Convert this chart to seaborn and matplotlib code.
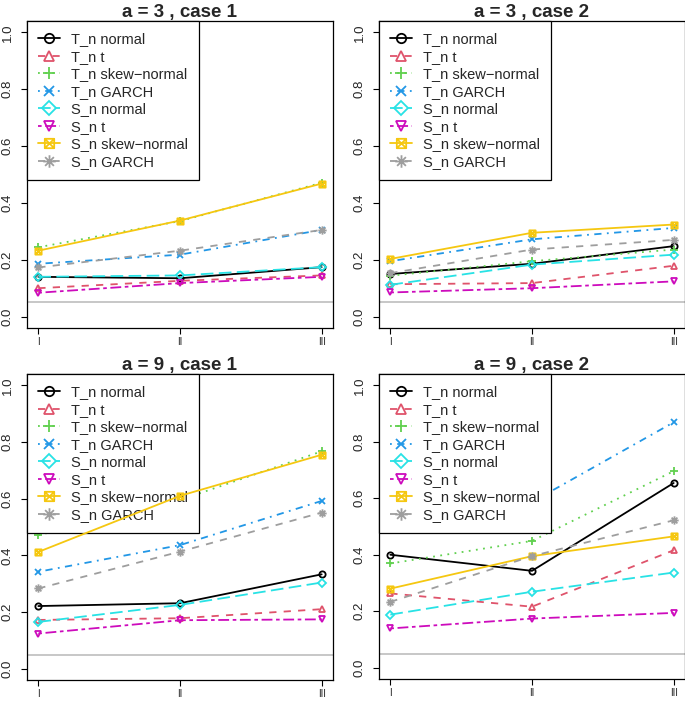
import numpy as np
import pandas as pd
import seaborn as sns
import matplotlib
matplotlib.use("Agg")
import matplotlib.pyplot as plt
from matplotlib.path import Path

# scenarios on the x axis
scenarios = [1, 2, 3]
scenario_labels = ["I", "II", "III"]

series_names = ["T_n normal", "T_n t", "T_n skew\u2212normal", "T_n GARCH",
                "S_n normal", "S_n t", "S_n skew\u2212normal", "S_n GARCH"]

# rejection rates, one row per series (same order as series_names)
a3_case1 = [[0.140, 0.135, 0.174],
            [0.100, 0.126, 0.145],
            [0.244, 0.336, 0.471],
            [0.186, 0.218, 0.305],
            [0.140, 0.145, 0.174],
            [0.084, 0.118, 0.140],
            [0.232, 0.338, 0.468],
            [0.173, 0.232, 0.305]]

a3_case2 = [[0.150, 0.186, 0.248],
            [0.114, 0.118, 0.179],
            [0.144, 0.195, 0.236],
            [0.195, 0.272, 0.312],
            [0.112, 0.183, 0.218],
            [0.085, 0.100, 0.124],
            [0.203, 0.295, 0.324],
            [0.153, 0.236, 0.270]]

a9_case1 = [[0.221, 0.231, 0.333],
            [0.172, 0.178, 0.210],
            [0.471, 0.595, 0.767],
            [0.342, 0.436, 0.592],
            [0.165, 0.225, 0.304],
            [0.124, 0.171, 0.174],
            [0.412, 0.610, 0.755],
            [0.283, 0.413, 0.551]]

a9_case2 = [[0.400, 0.343, 0.654],
            [0.263, 0.216, 0.416],
            [0.369, 0.449, 0.696],
            [0.561, 0.587, 0.869],
            [0.188, 0.269, 0.337],
            [0.139, 0.174, 0.194],
            [0.280, 0.395, 0.465],
            [0.233, 0.395, 0.522]]

panel_titles = ["a = 3 , case 1", "a = 3 , case 2", "a = 9 , case 1", "a = 9 , case 2"]
panel_data = [a3_case1, a3_case2, a9_case1, a9_case2]

rows = []
for title, block in zip(panel_titles, panel_data):
    for name, vals in zip(series_names, block):
        for s, v in zip(scenarios, vals):
            rows.append([title, name, s, v])
df = pd.DataFrame(rows, columns=["panel", "series", "scenario", "power"])

# R default palette and lty / pch sequences
colors = ["#000000", "#DF536B", "#61D04F", "#2297E6",
          "#28E2E5", "#CD0BBC", "#F5C710", "#9E9E9E"]
linestyles = ["-", (0, (4, 4)), (0, (1, 3)), (0, (1, 3, 4, 3)),
              (0, (7, 3)), (0, (2, 2, 6, 2)), "-", (0, (4, 4))]

box_x = Path([(-1, -1), (1, -1), (1, 1), (-1, 1), (-1, -1),
              (-1, -1), (1, 1), (-1, 1), (1, -1)],
             [Path.MOVETO, Path.LINETO, Path.LINETO, Path.LINETO, Path.CLOSEPOLY,
              Path.MOVETO, Path.LINETO, Path.MOVETO, Path.LINETO])
star8 = Path([(-1, 0), (1, 0), (0, -1), (0, 1),
              (-0.7, -0.7), (0.7, 0.7), (-0.7, 0.7), (0.7, -0.7)],
             [Path.MOVETO, Path.LINETO, Path.MOVETO, Path.LINETO,
              Path.MOVETO, Path.LINETO, Path.MOVETO, Path.LINETO])
markers = ["o", "^", "+", "x", "D", "v", box_x, star8]
msizes = [4.5, 5, 6, 5, 4.5, 5, 4.5, 6]

sns.set_theme(style="ticks")
plt.rcParams["font.family"] = ["Liberation Sans", "DejaVu Sans"]

fig = plt.figure(figsize=(6.85, 7.04), dpi=100)
W, H = 685.0, 704.0
boxes = [(27, 21, 306, 307), (379, 21, 306, 307),
         (27, 374, 306, 306), (379, 374, 306, 305)]

for title, (l, t, w, h) in zip(panel_titles, boxes):
    ax = fig.add_axes([l / W, 1 - (t + h) / H, w / W, h / H])
    sub = df[df["panel"] == title]
    ax.axhline(0.05, color="#BEBEBE", lw=1.2, zorder=1)
    for i, name in enumerate(series_names):
        d = sub[sub["series"] == name]
        sns.lineplot(data=d, x="scenario", y="power", ax=ax, errorbar=None,
                     color=colors[i], linestyle=linestyles[i], linewidth=1.3,
                     marker=markers[i], markersize=msizes[i],
                     markerfacecolor="none", markeredgecolor=colors[i],
                     markeredgewidth=1.3, label=name, zorder=2 + i)
    ax.set_xlim(0.92, 3.08)
    ax.set_ylim(-0.04, 1.04)
    ax.set_xticks(scenarios)
    ax.set_xticklabels(scenario_labels)
    ax.set_yticks([0.0, 0.2, 0.4, 0.6, 0.8, 1.0])
    ax.set_yticklabels(["0.0", "0.2", "0.4", "0.6", "0.8", "1.0"])
    ax.set_xlabel("")
    ax.set_ylabel("")
    ax.set_title(title, fontsize=13.5, fontweight="bold", pad=3)
    for sp in ax.spines.values():
        sp.set_visible(True)
        sp.set_color("black")
        sp.set_linewidth(0.9)
    ax.tick_params(axis="x", direction="out", length=4.5, width=0.8,
                   color="black", labelsize=7, pad=2)
    ax.tick_params(axis="y", direction="out", length=4.5, width=0.8,
                   color="black", labelsize=9.5, pad=5, labelrotation=90)
    plt.setp(ax.get_yticklabels(), va="center")
    leg = ax.legend(loc="upper left", borderaxespad=0, fontsize=10.5,
                    frameon=True, fancybox=False, framealpha=1,
                    edgecolor="black", handlelength=1.5, handletextpad=0.75,
                    labelspacing=0.24, borderpad=0.77, markerscale=1.5)
    leg.get_frame().set_linewidth(0.9)

fig.savefig("out.png", dpi=100)
